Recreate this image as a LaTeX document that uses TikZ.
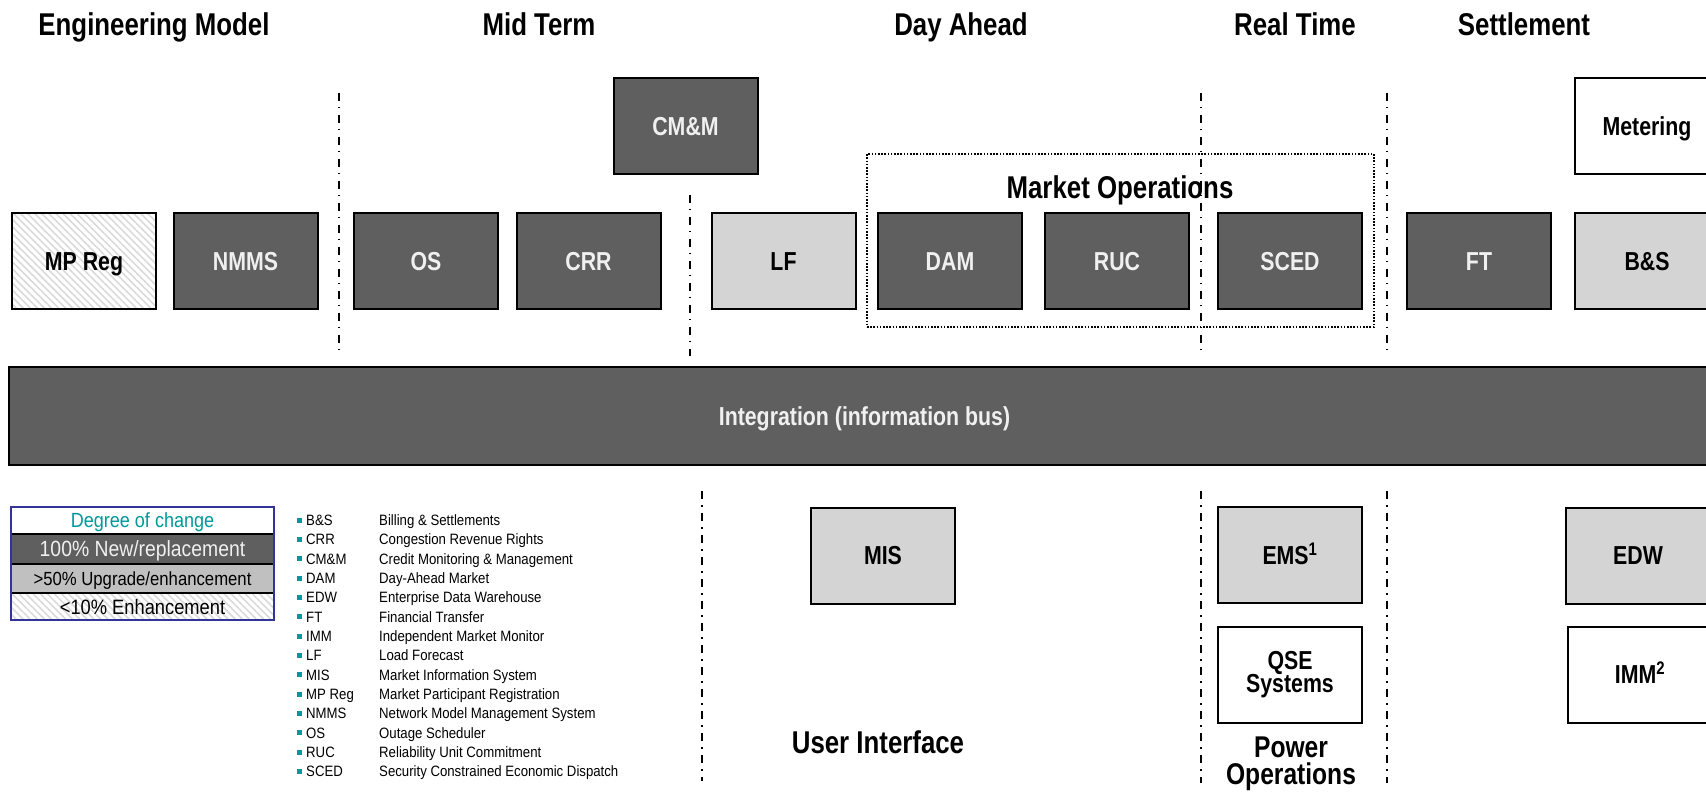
\documentclass[tikz,border=0pt]{standalone}
\usepackage{fontspec}
\setmainfont{Liberation Sans}[FakeStretch=0.88]
\newfontfamily\hfont{Liberation Sans}[FakeStretch=0.82]
\usetikzlibrary{patterns.meta}
\definecolor{darkbox}{RGB}{95,95,95}
\definecolor{lightbox}{RGB}{212,212,212}
\definecolor{midbox}{RGB}{192,192,192}
\definecolor{tealc}{RGB}{0,153,153}
\definecolor{navyc}{RGB}{51,51,153}
\definecolor{hatchc}{RGB}{218,218,218}
\tikzset{
  box/.style={draw=black, line width=2pt, minimum width=144pt, minimum height=96pt,
    inner sep=0pt, align=center, font=\hfont\bfseries\fontsize{26}{23.5}\selectfont},
  onel/.style={text height=18.8pt, text depth=0pt},
  darkb/.style={box, onel, fill=darkbox, text=white!94!black},
  lightb/.style={box, onel, fill=lightbox, text=black},
  plainb/.style={box, onel, fill=white, text=black},
  hatchb/.style={box, onel, pattern={Lines[angle=-45,distance=5pt,line width=1.6pt]}, pattern color=hatchc},
  ttl/.style={font=\hfont\bfseries\fontsize{31.5}{32}\selectfont, anchor=base, inner sep=0pt},
  pwr/.style={font=\hfont\bfseries\fontsize{30}{30}\selectfont, anchor=base, inner sep=0pt},
  divider/.style={line width=2pt, dash pattern=on 8pt off 6pt on 1.5pt off 6.5pt},
  dottedbox/.style={draw=black, line width=1.6pt, dash pattern=on 1.6pt off 1.6pt, minimum width=507pt, minimum height=173pt, inner sep=0pt},
  legrow/.style={minimum width=263pt, inner sep=0pt, text depth=0pt},
  itm/.style={font=\fontsize{15}{16}\selectfont, anchor=base west, inner sep=0pt},
  bullet/.style={fill=tealc, minimum size=5pt, inner sep=0pt},
}
\begin{document}
\begin{tikzpicture}[x=1pt,y=-1pt]
\useasboundingbox (0,0) rectangle (1706,794);

% column titles
\node[ttl] (tEng) at (154,36) {Engineering Model};
\node[ttl] (tMid) at (539,36) {Mid Term};
\node[ttl] (tDay) at (961,36) {Day Ahead};
\node[ttl] (tReal) at (1295,36) {Real Time};
\node[ttl] (tSet) at (1524,36) {Settlement};

% dividers
\coordinate (d1t) at (339,93);  \coordinate (d1b) at (339,352);
\coordinate (d2t) at (690,195); \coordinate (d2b) at (690,356);
\coordinate (d3t) at (1201,93); \coordinate (d3b) at (1201,352);
\coordinate (d4t) at (1387,93); \coordinate (d4b) at (1387,352);
\coordinate (d5t) at (702,491); \coordinate (d5b) at (702,781);
\coordinate (d6t) at (1201,491); \coordinate (d6b) at (1201,783);
\coordinate (d7t) at (1387,491); \coordinate (d7b) at (1387,783);
\foreach \i in {1,...,7} {\draw[divider] (d\i t) -- (d\i b);}

% market operations group
\node[dottedbox] (mo) at (1120.5,240.5) {};
\node[ttl] (moLabel) at (1120,199) {Market Operations};

% upper row
\node[plainb] (met) at (1647,126.5) {Metering};
\node[darkb] (cmm) at (685.5,126.5) {CM\&M};
\node[hatchb] (mpreg) at (84,261) {MP Reg};
\node[darkb] (nmms) at (245.5,261) {NMMS};
\node[darkb] (os) at (426,261) {OS};
\node[darkb] (crr) at (588.5,261) {CRR};
\node[lightb] (lf) at (783.5,261) {LF};
\node[darkb] (dam) at (950,261) {DAM};
\node[darkb] (ruc) at (1117,261) {RUC};
\node[darkb] (sced) at (1290,261) {SCED};
\node[darkb] (ft) at (1479,261) {FT};
\node[lightb] (bs) at (1647,261) {B\&S};

% bus
\node[darkb, minimum width=1711pt, minimum height=98pt] (bus) at (864.5,416) {Integration (information bus)};

% lower row
\node[lightb] (mis) at (883,555.5) {MIS};
\node[lightb] (ems) at (1290,555) {EMS\textsuperscript{1}};
\node[box, fill=white] (qse) at (1290,674.5) {QSE\\Systems};
\node[lightb] (edw) at (1638,555.5) {EDW};
\node[plainb] (imm) at (1640,674.5) {IMM\textsuperscript{2}};

\node[ttl] (ui) at (878,753) {User Interface};
\node[pwr] (po1) at (1291,757) {Power};
\node[pwr] (po2) at (1291,784) {Operations};

% legend of degree of change
\node[legrow, fill=white, minimum height=27pt, text height=14.7pt, text=tealc, font=\fontsize{20.5}{22}\selectfont] (r1) at (142.5,520.5) {Degree of change};
\node[legrow, fill=darkbox, minimum height=30pt, text height=15.8pt, text=white!94!black, font=\fontsize{22}{24}\selectfont] (r2) at (142.5,549) {100\% New/replacement};
\node[legrow, fill=midbox, minimum height=29pt, text height=13.7pt, text=black, font=\fontsize{19}{21}\selectfont] (r3) at (142.5,578.5) {>50\% Upgrade/enhancement};
\node[legrow, pattern={Lines[angle=-45,distance=5pt,line width=1.6pt]}, pattern color=hatchc, minimum height=27pt, text height=15pt, text=black, font=\fontsize{20.8}{22}\selectfont] (r4) at (142.5,606.5) {<10\% Enhancement};
\draw[line width=2pt] (r1.south west) -- (r1.south east);
\draw[line width=2pt] (r2.south west) -- (r2.south east);
\draw[line width=2pt] (r3.south west) -- (r3.south east);
\draw[navyc, line width=2pt] (r1.north west) rectangle (r4.south east);

% abbreviations
\foreach \a/\d [count=\i from 0] in {B\&S/Billing \& Settlements, CRR/Congestion Revenue Rights, CM\&M/Credit Monitoring \& Management, DAM/Day-Ahead Market, EDW/Enterprise Data Warehouse, FT/Financial Transfer, IMM/Independent Market Monitor, LF/Load Forecast, MIS/Market Information System, MP Reg/Market Participant Registration, NMMS/Network Model Management System, OS/Outage Scheduler, RUC/Reliability Unit Commitment, SCED/Security Constrained Economic Dispatch} {
  \pgfmathsetmacro{\yy}{520+19.35*\i}
  \node[bullet] (b\i) at (299.5,\yy) {};
  \node[itm] (a\i) at (306,\yy+5.4) {\a};
  \node[itm] (t\i) at (379,\yy+5.4) {\d};
}
\end{tikzpicture}
\end{document}
